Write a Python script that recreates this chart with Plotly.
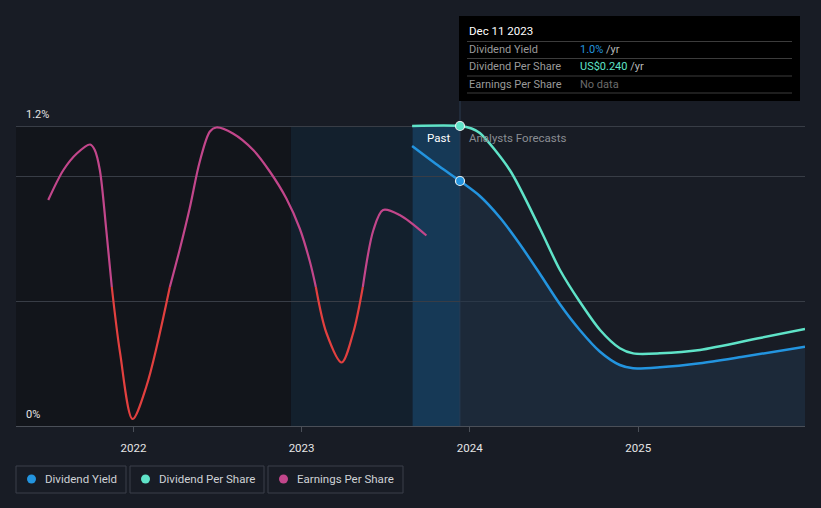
import plotly.graph_objects as go

# ---------------- data ----------------
yield_dates = ["2023-08-29", "2023-10-28", "2023-12-11", "2024-01-23", "2024-03-07",
               "2024-04-19", "2024-06-02", "2024-07-15", "2024-08-27", "2024-10-10",
               "2024-11-22", "2024-12-21", "2025-02-17", "2025-05-15", "2025-08-16",
               "2025-12-29"]
yield_vals = [1.12, 1.037, 0.98, 0.92, 0.833, 0.727, 0.607, 0.487, 0.384, 0.297,
              0.244, 0.231, 0.235, 0.251, 0.277, 0.317]

dps_dates = ["2023-08-29", "2023-12-11", "2024-01-05", "2024-01-23", "2024-03-28",
             "2024-06-02", "2024-07-15", "2024-08-27", "2024-10-10", "2024-11-22",
             "2024-12-21", "2025-02-17", "2025-05-15", "2025-09-22", "2025-12-29"]
dps_vals = [0.24, 0.24, 0.238, 0.2344, 0.2048, 0.1576, 0.1248, 0.0994, 0.0768,
            0.0622, 0.0581, 0.0581, 0.0608, 0.0704, 0.0776]

eps_dates = ["2021-06-30", "2021-08-02", "2021-08-31", "2021-09-29", "2021-10-09",
             "2021-10-20", "2021-11-03", "2021-11-15", "2021-12-03", "2021-12-30",
             "2022-01-29", "2022-03-21", "2022-04-12", "2022-05-03", "2022-05-25",
             "2022-06-16", "2022-06-30", "2022-08-05", "2022-09-18", "2022-10-24",
             "2022-11-29", "2022-12-28", "2023-01-19", "2023-02-01", "2023-02-24",
             "2023-03-29", "2023-04-23", "2023-05-14", "2023-06-06", "2023-06-27",
             "2023-08-02", "2023-09-29"]
eps_vals = [0.174, 0.234, 0.267, 0.285, 0.274, 0.234, 0.114, 0.0, -0.132, -0.264,
            -0.199, 0.0, 0.077, 0.157, 0.251, 0.311, 0.319, 0.307, 0.274, 0.231,
            0.177, 0.117, 0.051, 0.0, -0.092, -0.151, -0.092, 0.0, 0.114, 0.154,
            0.144, 0.103]

year_ticks = ["2022-01-01", "2023-01-01", "2024-01-01", "2025-01-01"]
year_labels = ["2022", "2023", "2024", "2025"]

x_start, x_end = "2021-04-21", "2025-12-29"
hist_start, past_start, today = "2022-12-09", "2023-08-30", "2023-12-11"

# ---------------- style ----------------
BG = "#181c25"
BLUE = "#2394df"
TEAL = "#5fe3c8"
PINK = "#c2468b"
RED = "#e2403f"
GRID = "#383d46"

W, H = 821, 508
L, R, T, B = 16, 16, 20, 82
PW, PH = W - L - R, H - T - B
Y_MAX = PH / 250.0  # 250 px per 1 %


def px(x):
    return (x - L) / PW


def py(y):
    return (H - B - y) / PH


fig = go.Figure()

# forecast area under dividend yield
fi = yield_dates.index(today)
fig.add_trace(go.Scatter(x=yield_dates[fi:], y=yield_vals[fi:], mode="lines",
                         line=dict(width=0, shape="spline", smoothing=0.8), fill="tozeroy",
                         fillcolor="rgba(32,52,75,0.55)", hoverinfo="skip",
                         showlegend=False, yaxis="y"))

# EPS split by sign
segs = []
cur = [0]
for i in range(1, len(eps_vals)):
    cur.append(i)
    if eps_vals[i] == 0 and i != len(eps_vals) - 1:
        segs.append(cur)
        cur = [i]
segs.append(cur)
for s in segs:
    vals = [eps_vals[i] for i in s]
    neg = sum(vals) / len(vals) < 0
    fig.add_trace(go.Scatter(x=[eps_dates[i] for i in s], y=vals, mode="lines",
                             line=dict(color=RED if neg else PINK, width=2.2,
                                       shape="spline", smoothing=0.9),
                             showlegend=False, hoverinfo="skip", yaxis="y3"))

fig.add_trace(go.Scatter(x=dps_dates, y=dps_vals, mode="lines",
                         line=dict(color=TEAL, width=2.5, shape="spline", smoothing=0.8),
                         showlegend=False, hoverinfo="skip", yaxis="y2"))
fig.add_trace(go.Scatter(x=yield_dates, y=yield_vals, mode="lines",
                         line=dict(color=BLUE, width=2.5, shape="spline", smoothing=0.8),
                         showlegend=False, hoverinfo="skip", yaxis="y"))

# hover markers
di = dps_dates.index(today)
fig.add_trace(go.Scatter(x=[today], y=[dps_vals[di]], mode="markers",
                         marker=dict(color=TEAL, size=9, line=dict(color="#e8f0f0", width=1.2)),
                         showlegend=False, hoverinfo="skip", yaxis="y2"))
fig.add_trace(go.Scatter(x=[today], y=[yield_vals[fi]], mode="markers",
                         marker=dict(color=BLUE, size=9, line=dict(color="#e8f0f0", width=1.2)),
                         showlegend=False, hoverinfo="skip", yaxis="y"))

shapes = []
top_shade = py(126)
shapes.append(dict(type="rect", xref="x", yref="paper", x0=x_start, x1=hist_start,
                   y0=0, y1=top_shade, fillcolor="#12151b", line_width=0, layer="below"))
shapes.append(dict(type="rect", xref="x", yref="paper", x0=hist_start, x1=past_start,
                   y0=0, y1=top_shade, fillcolor="#13202d", line_width=0, layer="below"))
shapes.append(dict(type="rect", xref="x", yref="paper", x0=past_start, x1=today,
                   y0=0, y1=top_shade, fillcolor="#163956", line_width=0, layer="below"))
shapes.append(dict(type="line", xref="x", yref="paper", x0=today, x1=today,
                   y0=0, y1=py(101), line=dict(color="#2a3b50", width=1), layer="below"))

# tooltip box
shapes.append(dict(type="rect", xref="paper", yref="paper", x0=px(459), x1=px(800),
                   y0=py(101), y1=py(16), fillcolor="#000000", line_width=0))
for yy in [41.5, 58.5, 76, 93]:
    shapes.append(dict(type="line", xref="paper", yref="paper", x0=px(467), x1=px(792),
                       y0=py(yy), y1=py(yy), line=dict(color="#3c3c3c", width=1)))

# legend boxes
legend_items = [("Dividend Yield", BLUE, 16, 126), ("Dividend Per Share", TEAL, 130, 264),
                ("Earnings Per Share", PINK, 268, 403)]
annotations = []
for name, col, x0, x1 in legend_items:
    shapes.append(dict(type="rect", xref="paper", yref="paper", x0=px(x0), x1=px(x1),
                       y0=py(493), y1=py(466), fillcolor="rgba(0,0,0,0)",
                       line=dict(color="#3a3f4a", width=1)))
    shapes.append(dict(type="circle", xref="paper", yref="paper", x0=px(x0 + 11), x1=px(x0 + 20),
                       y0=py(483.5), y1=py(474.5), fillcolor=col, line_width=0))
    annotations.append(dict(text=name, xref="paper", yref="paper", x=px(x0 + 27), y=py(479.5),
                            xanchor="left", yanchor="middle", showarrow=False,
                            font=dict(color="#cfd2d6", size=11.5)))

# axis labels
annotations.append(dict(text="1.2%", xref="paper", yref="paper", x=px(24), y=py(114),
                        xanchor="left", yanchor="middle", showarrow=False,
                        font=dict(color="#e6e6e6", size=11)))
annotations.append(dict(text="0%", xref="paper", yref="paper", x=px(24), y=py(414),
                        xanchor="left", yanchor="middle", showarrow=False,
                        font=dict(color="#e6e6e6", size=11)))
annotations.append(dict(text="Past", xref="paper", yref="paper", x=px(452), y=py(138),
                        xanchor="right", yanchor="middle", showarrow=False,
                        font=dict(color="#ffffff", size=11.5)))
annotations.append(dict(text="Analysts Forecasts", xref="paper", yref="paper", x=px(467),
                        y=py(138), xanchor="left", yanchor="middle", showarrow=False,
                        font=dict(color="#8a8d93", size=11.5)))

# tooltip texts
annotations.append(dict(text="Dec 11 2023", xref="paper", yref="paper", x=px(467), y=py(31),
                        xanchor="left", yanchor="middle", showarrow=False,
                        font=dict(color="#ffffff", size=11.5)))
rows = [("Dividend Yield", "<span style='color:%s'>%.1f%%</span> /yr" % (BLUE, yield_vals[fi]), 49.5),
        ("Dividend Per Share", "<span style='color:%s'>US$%.3f</span> /yr" % (TEAL, dps_vals[di]), 66.5),
        ("Earnings Per Share", "<span style='color:#6b6b6b'>No data</span>", 84.5)]
for lab, val, yy in rows:
    annotations.append(dict(text=lab, xref="paper", yref="paper", x=px(467), y=py(yy),
                            xanchor="left", yanchor="middle", showarrow=False,
                            font=dict(color="#9a9a9a", size=11)))
    annotations.append(dict(text=val, xref="paper", yref="paper", x=px(578), y=py(yy),
                            xanchor="left", yanchor="middle", showarrow=False,
                            font=dict(color="#b8b8b8", size=11)))

eps_lo = -(H - B - 287) / 500.0
eps_hi = eps_lo + PH / 500.0

fig.update_layout(
    width=W, height=H,
    margin=dict(l=L, r=R, t=T, b=B),
    paper_bgcolor=BG, plot_bgcolor=BG,
    font=dict(family="Roboto, 'Noto Sans', sans-serif", color="#e6e6e6"),
    showlegend=False,
    shapes=shapes, annotations=annotations,
    xaxis=dict(type="date", range=[x_start, x_end], tickvals=year_ticks, ticktext=year_labels,
               showgrid=False, showline=True, linecolor="#4a4f58", linewidth=1,
               ticks="outside", ticklen=5, tickcolor="#4a4f58", ticklabelstandoff=6,
               tickfont=dict(color="#e6e6e6", size=11.5), zeroline=False),
    yaxis=dict(range=[0, Y_MAX], tickvals=[0.5, 1.0, 1.2], showticklabels=False,
               showgrid=True, gridcolor=GRID, gridwidth=1, zeroline=False, ticks=""),
    yaxis2=dict(range=[0, Y_MAX / 1.2 * 0.24], overlaying="y", visible=False),
    yaxis3=dict(range=[eps_lo, eps_hi], overlaying="y", visible=False),
)

fig.write_html("out.html")
